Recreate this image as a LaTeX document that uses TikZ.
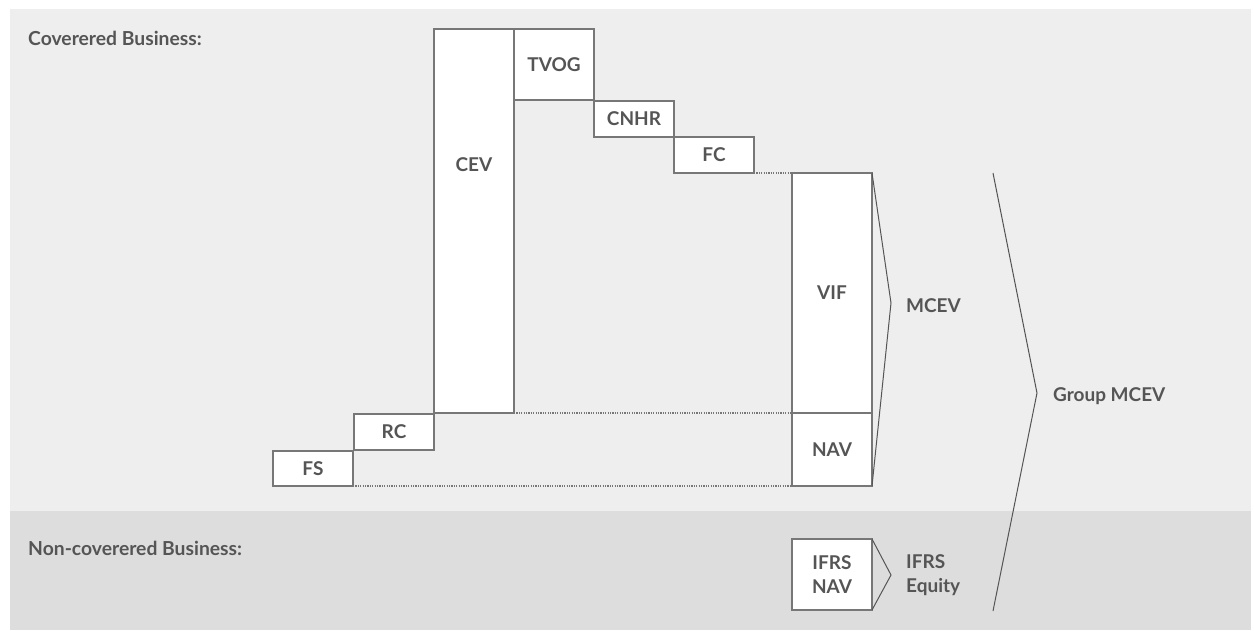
\documentclass[tikz,border=0pt]{standalone}
\usepackage{fontspec}
\setmainfont{Lato}
\begin{document}
\begin{tikzpicture}[x=1pt,y=-1pt,
  box/.style={draw=boxline, fill=white, line width=1.3pt, inner sep=0pt, outer sep=0pt, anchor=north west, text=txt, font=\bfseries\fontsize{19}{24.5}\selectfont, align=center},
  lbl/.style={text=txt, font=\bfseries\fontsize{19}{24.5}\selectfont, anchor=west, inner sep=0pt, align=left},
  head/.style={text=txt, font=\bfseries\fontsize{19.3}{23}\selectfont, anchor=west, inner sep=0pt},
  dots/.style={draw=boxline, line width=1.2pt, dash pattern=on 1.2pt off 1.2pt},
  brace/.style={draw=braceline, line width=1pt}]
\definecolor{txt}{HTML}{555555}
\definecolor{boxline}{HTML}{777777}
\definecolor{braceline}{HTML}{555555}
\definecolor{upper}{HTML}{EEEEEE}
\definecolor{lower}{HTML}{DDDDDD}
\useasboundingbox (0,0) rectangle (1254,630);
\fill[upper] (10,9) rectangle (1251,511);
\fill[lower] (10,511) rectangle (1251,630);
\node[head] (hc) at (28,38) {Coverered Business:};
\node[head] (hn) at (28,548) {Non-coverered Business:};
% boxes
\node[box, minimum width=80, minimum height=35] (fs) at (273,451) {FS};
\node[box, minimum width=80, minimum height=36] (rc) at (354,414) {RC};
\node[box, minimum width=80, minimum height=384] (cev) at (434,29) {};
\node[text=txt, font=\bfseries\fontsize{19}{24.5}\selectfont] (cevl) at (474,165) {CEV};
\node[box, minimum width=80, minimum height=71] (tvog) at (514,29) {TVOG};
\node[box, minimum width=80, minimum height=36] (cnhr) at (594,101) {CNHR};
\node[box, minimum width=80, minimum height=36] (fc) at (674,137) {FC};
\node[box, minimum width=80, minimum height=240] (vif) at (792,173) {VIF};
\node[box, minimum width=80, minimum height=73] (nav) at (792,413) {NAV};
\node[box, minimum width=80, minimum height=71] (ifrs) at (792,539) {IFRS\\NAV};
% dotted guides
\draw[dots] (fc.south east) -- (vif.north west);
\draw[dots] (cev.south east) -- (nav.north west);
\draw[dots] (fs.south east) -- (nav.south west);
% braces
\coordinate (mtip) at (891,303);
\coordinate (itip) at (891,575);
\coordinate (gtop) at (993,173);
\coordinate (gtip) at (1037,393);
\coordinate (gbot) at (993,611);
\draw[brace] (vif.north east) -- (mtip) -- (nav.south east);
\draw[brace] (ifrs.north east) -- (itip) -- (ifrs.south east);
\draw[brace] (gtop) -- (gtip) -- (gbot);
\node[lbl] (mcev) at (906,306) {MCEV};
\node[lbl] (ieq) at (906,575) {IFRS\\Equity};
\node[lbl] (gm) at (1053,396) {Group MCEV};
\end{tikzpicture}
\end{document}
